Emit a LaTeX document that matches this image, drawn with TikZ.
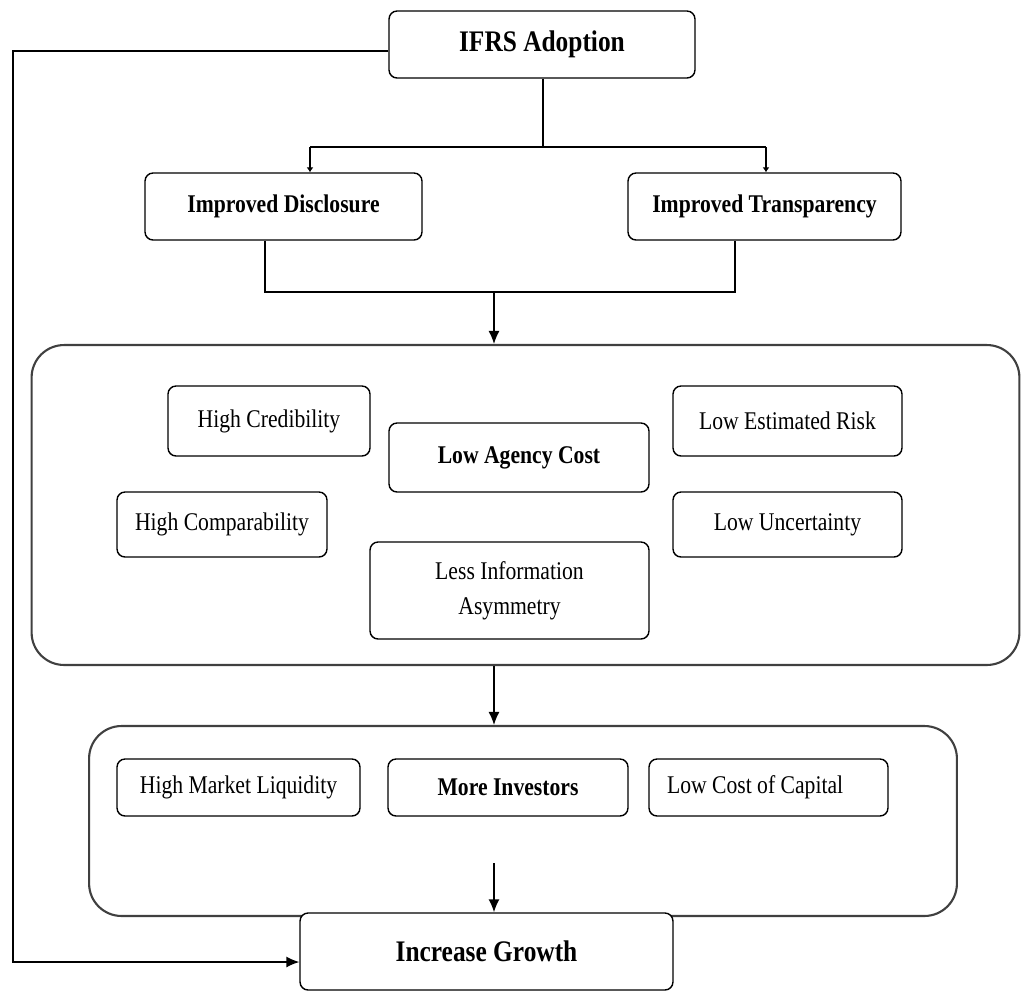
\documentclass[tikz,border=0pt]{standalone}
\usepackage{fontspec}
\setmainfont{Liberation Serif}[FakeStretch=0.85]
\usetikzlibrary{arrows.meta}
\usetikzlibrary{calc,positioning}

\begin{document}
\begin{tikzpicture}[x=0.02cm, y=-0.02cm, >={Latex[length=2.6mm,width=2.2mm]},
    box/.style={draw, fill=white, line width=0.8pt, rounded corners=0.16cm, align=center,
        inner sep=2pt, font=\fontsize{14.5}{20}\selectfont},
    boldbox/.style={box, font=\fontsize{14.5}{20}\selectfont\bfseries},
    head/.style={box, font=\fontsize{17}{20}\selectfont\bfseries},
    frame/.style={draw=black!75, line width=1.2pt, rounded corners=0.65cm},
    tick/.style={-{Latex[length=1mm,width=1.4mm]}}]

    \useasboundingbox (0,0) rectangle (1022,992);

    % the two frames
    \node[frame, minimum width=19.76cm, minimum height=6.4cm] (mid) at (525.5,505) {};
    \node[frame, minimum width=17.36cm, minimum height=3.8cm] (out) at (523,821) {};

    \node[head, minimum width=6.12cm, minimum height=1.34cm] (ifrs) at (542,44.5) {IFRS Adoption};
    \node[boldbox, minimum width=5.54cm, minimum height=1.34cm] (discl) at (283.5,206.5) {Improved Disclosure};
    \node[boldbox, minimum width=5.46cm, minimum height=1.34cm] (transp) at (764.5,206.5) {Improved Transparency};

    \node[box, minimum width=4.04cm, minimum height=1.4cm] (cred) at (269,421) {High Credibility};
    \node[boldbox, minimum width=5.2cm, minimum height=1.38cm] (agency) at (519,457.5) {Low Agency Cost};
    \node[box, minimum width=4.58cm, minimum height=1.4cm] (risk) at (787.5,421) {Low Estimated Risk};
    \node[box, minimum width=4.2cm, minimum height=1.3cm] (compar) at (222,524.5) {High Comparability};
    \node[box, minimum width=4.58cm, minimum height=1.3cm] (uncert) at (787.5,524.5) {Low Uncertainty};
    \node[box, minimum width=5.58cm, minimum height=1.94cm] (asym) at (509.5,590.5) {Less Information\\Asymmetry};

    \node[box, minimum width=4.86cm, minimum height=1.14cm] (liq) at (238.5,787.5) {High Market Liquidity};
    \node[boldbox, minimum width=4.8cm, minimum height=1.14cm] (inv) at (508,787.5) {More Investors};
    \node[box, minimum height=1.14cm, text width=4.06cm, align=flush left, inner xsep=0.36cm] (capital) at (768.5,787.5) {Low Cost of Capital};

    \node[head, minimum width=7.46cm, minimum height=1.54cm] (growth) at (486.5,951.5) {Increase Growth};

    % IFRS splits into the two boxes
    \coordinate (split) at (543,147);
    \coordinate (dL) at (310,147);
    \coordinate (dR) at (766,147);
    \draw[line width=0.8pt] (ifrs.south -| split) -- (split);
    \draw[line width=0.8pt] (dL) -- (dR);
    \draw[line width=0.8pt, tick] (dL) -- (dL |- discl.north);
    \draw[line width=0.8pt, tick] (dR) -- (dR |- transp.north);

    % join and go down
    \coordinate (jL) at (265,292);
    \coordinate (jR) at (735,292);
    \coordinate (j) at (494,292);
    \draw[line width=0.8pt] (jL |- discl.south) -- (jL) -- (jR) -- (jR |- transp.south);
    \draw[->, line width=0.8pt] (j) -- (j |- mid.north);
    \draw[->, line width=0.8pt] (j |- mid.south) -- (j |- out.north);
    \coordinate (o) at (494,863);
    \draw[->, line width=0.8pt] (o) -- (o |- growth.north);

    % direct path
    \coordinate (fb) at (13,51);
    \coordinate (fbend) at (13,962);
    \draw[->, line width=0.8pt] (ifrs.west |- fb) -- (fb) -- (fbend) -- (fbend -| growth.west);

\end{tikzpicture}
\end{document}
